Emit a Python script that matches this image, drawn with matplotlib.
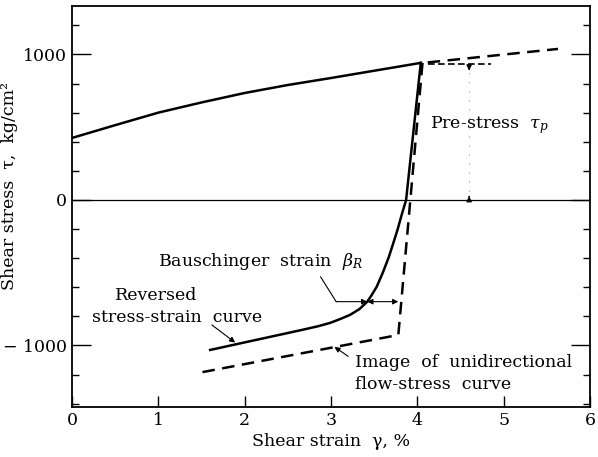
import matplotlib
matplotlib.use("Agg")
import matplotlib.pyplot as plt
from matplotlib.ticker import MultipleLocator, FixedLocator

plt.rcParams["font.family"] = ["DejaVu Serif"]
plt.rcParams["mathtext.fontset"] = "dejavuserif"

# unidirectional (forward) flow-stress curve
forward_x = [0, 0.5, 1.0, 1.5, 2.0, 2.5, 3.0, 3.5, 4.04]
forward_y = [426, 514, 600, 670, 735, 790, 838, 888, 942]

# extrapolated forward curve (dashed)
extrap_x = [4.12, 5.63]
extrap_y = [945, 1038]

# pre-stress level marker (short dashed)
prestress_x = [4.12, 4.85]
prestress_y = [935, 935]

# reversed stress-strain curve
reversed_x = [4.04, 3.87, 3.82, 3.77, 3.72, 3.67, 3.6, 3.53, 3.47, 3.42,
              3.33, 3.22, 3.1, 2.99, 2.85, 2.65, 2.0, 1.6]
reversed_y = [942, 0, -100, -206, -300, -392, -500, -596, -655, -699,
              -750, -790, -820, -845, -868, -895, -979, -1031]

# image of unidirectional flow-stress curve
image_x = [4.06, 3.78, 1.46]
image_y = [942, -928, -1189]

fig = plt.figure(figsize=(5.98, 4.57), dpi=100)
ax = fig.add_axes([0.1204, 0.1094, 0.8662, 0.8775])

ax.plot(forward_x, forward_y, color="black", lw=1.8)
ax.plot(extrap_x, extrap_y, color="black", lw=1.8, linestyle=(0, (5, 3)))
ax.plot(prestress_x, prestress_y, color="black", lw=1.2, linestyle=(0, (4, 2)))
ax.plot(reversed_x, reversed_y, color="black", lw=1.8)
ax.plot(image_x, image_y, color="black", lw=1.8, linestyle=(0, (5, 3)))
ax.axhline(0, color="black", lw=0.9)

ax.set_xlim(0, 6)
ax.set_ylim(-1423, 1333)

# pre-stress dimension
ax.annotate("", xy=(4.6, 890), xytext=(4.6, 925),
            arrowprops=dict(arrowstyle="-|>", color="black", lw=0.8,
                            mutation_scale=8))
ax.annotate("", xy=(4.6, 45), xytext=(4.6, 5),
            arrowprops=dict(arrowstyle="-|>", color="black", lw=0.8,
                            mutation_scale=8))
ax.plot([4.6, 4.6], [60, 880], color="black", lw=0.5, linestyle=(0, (1, 12)))

fs = 12.5
ax.text(4.15, 515, r"Pre-stress  $\tau_p$", fontsize=fs, ha="left", va="center")

# Bauschinger strain
ax.text(1.0, -426, r"Bauschinger  strain  $\beta_R$", fontsize=fs,
        ha="left", va="center")
ax.plot([2.88, 3.06], [-529, -699], color="black", lw=0.8)
ax.annotate("", xy=(3.42, -699), xytext=(3.06, -699),
            arrowprops=dict(arrowstyle="-|>", color="black", lw=0.8,
                            mutation_scale=8, shrinkA=0, shrinkB=0))
ax.annotate("", xy=(3.78, -699), xytext=(3.42, -699),
            arrowprops=dict(arrowstyle="<|-|>", color="black", lw=0.8,
                            mutation_scale=8, shrinkA=0, shrinkB=0))

# reversed curve label
ax.text(0.5, -660, "Reversed", fontsize=fs, ha="left", va="center")
ax.text(0.23, -811, "stress-strain  curve", fontsize=fs, ha="left", va="center")
ax.annotate("", xy=(1.89, -980), xytext=(1.62, -859),
            arrowprops=dict(arrowstyle="-|>", color="black", lw=0.8,
                            mutation_scale=8, shrinkA=0, shrinkB=0))

# image label
ax.text(3.28, -1120, "Image  of  unidirectional", fontsize=fs,
        ha="left", va="center")
ax.text(3.28, -1271, "flow-stress  curve", fontsize=fs, ha="left", va="center")
ax.annotate("", xy=(3.04, -1010), xytext=(3.2, -1075),
            arrowprops=dict(arrowstyle="-|>", color="black", lw=0.8,
                            mutation_scale=8, shrinkA=0, shrinkB=0))

# ticks
ax.xaxis.set_major_locator(FixedLocator([0, 1, 2, 3, 4, 5, 6]))
ax.set_xticklabels(["0", "1", "2", "3", "4", "5", "6"])
ax.yaxis.set_major_locator(FixedLocator([-1000, 0, 1000]))
ax.set_yticklabels(["\u2212 1000", "0", "1000"])
ax.yaxis.set_minor_locator(MultipleLocator(200))
ax.tick_params(axis="both", which="major", direction="in", labelsize=fs,
               width=1.0, length=8, right=True)
ax.tick_params(axis="y", which="major", length=14)
ax.tick_params(axis="y", which="minor", direction="in", length=5, width=1.0,
               right=True)
for s in ax.spines.values():
    s.set_linewidth(1.3)

ax.set_xlabel("Shear strain  \u03b3, %", fontsize=fs)
ax.xaxis.set_label_coords(0.5, -0.065)
ax.set_ylabel("Shear stress  \u03c4,  kg/cm\u00b2", fontsize=fs)
ax.yaxis.set_label_coords(-0.104, 0.55)

fig.savefig("out.png", dpi=100)
